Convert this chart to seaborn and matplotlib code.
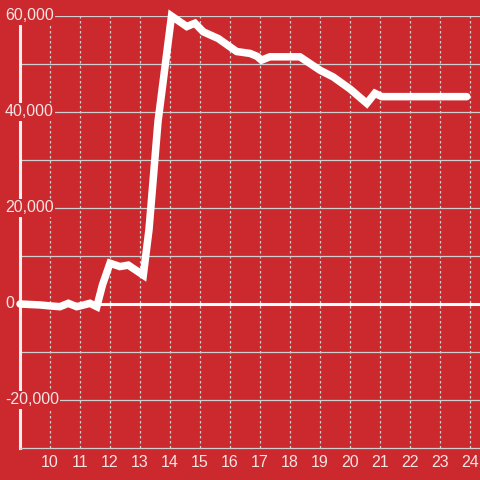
import matplotlib
matplotlib.use("Agg")
import matplotlib.pyplot as plt
import matplotlib.transforms as mtransforms
import seaborn as sns
import pandas as pd

# hour of day and value
hours = [9.0, 9.67, 10.0, 10.33, 10.61, 10.89, 11.0, 11.33, 11.56, 11.75,
         12.0, 12.33, 12.61, 13.11, 13.3, 13.6, 14.05, 14.56, 14.83, 15.11,
         15.61, 16.22, 16.67, 16.9, 17.05, 17.33, 18.0, 18.33, 19.0, 19.44,
         20.0, 20.56, 20.83, 21.06, 22.0, 23.0, 23.89]
values = [0, -200, -400, -560, 140, -560, -400, 140, -560, 4000,
          8500, 7800, 8100, 6000, 15500, 38000, 60000, 57800, 58500, 56700,
          55300, 52600, 52200, 51600, 50800, 51500, 51500, 51500, 48700, 47300,
          44800, 41800, 43900, 43200, 43200, 43200, 43200]

y_ticks = [60000, 40000, 20000, 0, -20000]
y_labels = ["60,000", "40,000", "20,000", "0", "-20,000"]
y_grid = [60000, 50000, 40000, 30000, 20000, 10000, -10000, -20000]
x_ticks = list(range(10, 25))

bg = "#cc292e"
text_col = "#f4e4e4"
grid_col = "#cfcfcf"

sns.set_theme(style="white")
plt.rcParams['font.family'] = ['Liberation Sans', 'DejaVu Sans']

df = pd.DataFrame({"hour": hours, "value": values})

fig = plt.figure(figsize=(4.8, 4.8), dpi=100, facecolor=bg)
ax = fig.add_axes([20 / 480, 32 / 480, 460 / 480, 432 / 480])
ax.set_facecolor(bg)
ax.set_xlim(9, 24.333)
ax.set_ylim(-30000, 60000)

for y in y_grid:
    ax.axhline(y, color=grid_col, lw=0.9, zorder=1)
for x in x_ticks:
    ax.axvline(x, color=grid_col, lw=0.9, ls=(0, (2, 2)), zorder=1)
ax.axhline(0, color="white", lw=2.2, zorder=2)

sns.lineplot(data=df, x="hour", y="value", ax=ax, color="white", lw=5.4,
             zorder=4, clip_on=False, solid_joinstyle="miter")

for s in ["top", "right"]:
    ax.spines[s].set_visible(False)
ax.spines["left"].set_color("#f5f0f0")
ax.spines["left"].set_linewidth(2.2)
ax.spines["left"].set_bounds(-30000, 58400)
ax.spines["bottom"].set_color(grid_col)
ax.spines["bottom"].set_linewidth(0.9)

ax.set_yticks([])
ax.set_xticks(x_ticks)
ax.set_xticklabels([str(x) for x in x_ticks], color=text_col, fontsize=11.5)
ax.tick_params(axis="x", length=0, pad=5)
ax.set_xlabel("")
ax.set_ylabel("")

trans = mtransforms.blended_transform_factory(fig.transFigure, ax.transData)
for y, lab in zip(y_ticks, y_labels):
    ax.text(5 / 480, y, lab, transform=trans, ha="left", va="center",
            color=text_col, fontsize=11.5, zorder=3,
            bbox=dict(facecolor=bg, edgecolor="none", pad=0.8))

fig.savefig("out.png", dpi=100, facecolor=bg)
